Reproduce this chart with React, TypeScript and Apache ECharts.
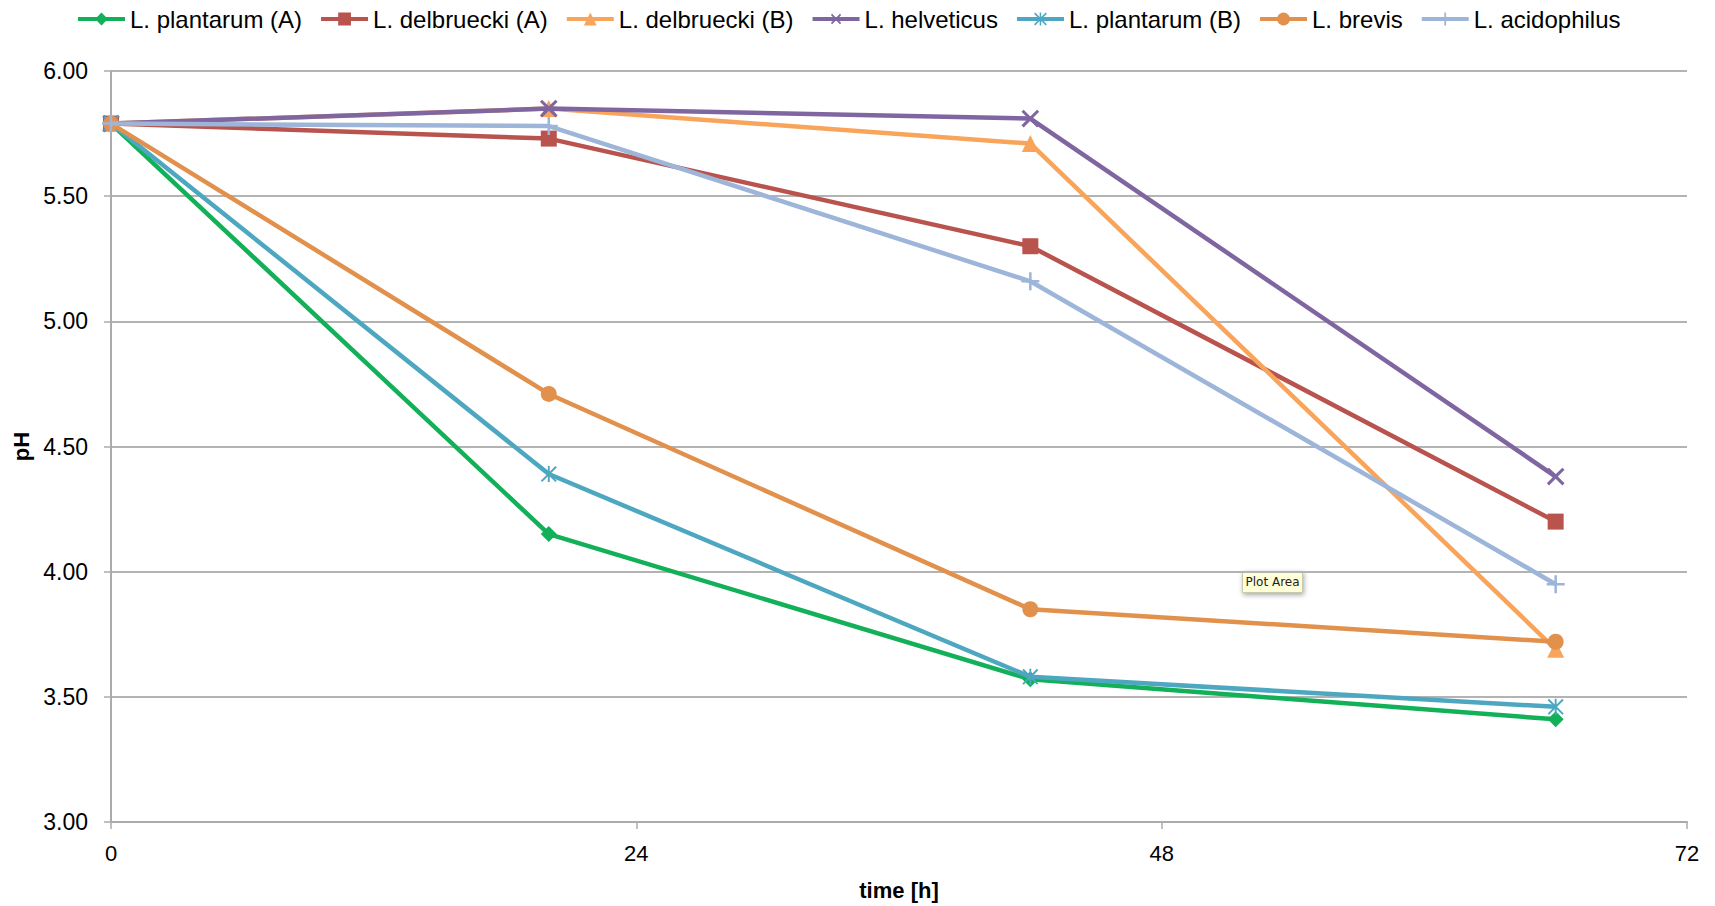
import React, { useEffect, useRef } from "react";
import * as echarts from "echarts";

const times = [0, 20, 42, 66];
const seriesNames = [
  "L. plantarum (A)",
  "L. delbruecki (A)",
  "L. delbruecki (B)",
  "L. helveticus",
  "L. plantarum (B)",
  "L. brevis",
  "L. acidophilus",
];
const plantarumA = [5.79, 4.15, 3.57, 3.41];
const delbrueckiA = [5.79, 5.73, 5.3, 4.2];
const delbrueckiB = [5.79, 5.85, 5.71, 3.69];
const helveticus = [5.79, 5.85, 5.81, 4.38];
const plantarumB = [5.79, 4.39, 3.58, 3.46];
const brevis = [5.79, 4.71, 3.85, 3.72];
const acidophilus = [5.79, 5.78, 5.16, 3.95];
const xTicks = [0, 24, 48, 72];
const yTicks = [3.0, 3.5, 4.0, 4.5, 5.0, 5.5, 6.0];

const colors = ["#12B058", "#B9534E", "#F8A55B", "#7F66A0", "#4DA7C0", "#E1914C", "#9DB5D9"];

const PLUS = "path://M4.3,0H5.7V4.3H10V5.7H5.7V10H4.3V5.7H0V4.3H4.3Z";
const ASTER =
  "path://M4.4,0H5.6V10H4.4Z M0,0.85L0.85,0L10,9.15L9.15,10Z M10,0.85L0.85,10L0,9.15L9.15,0Z";

const symbols = ["diamond", "rect", "triangle", PLUS, ASTER, "circle", PLUS];
const symbolSizes = [16, 16, 17, 22, 16, 16, 18];
const symbolRotates = [0, 0, 0, 45, 0, 0, 0];
const values = [plantarumA, delbrueckiA, delbrueckiB, helveticus, plantarumB, brevis, acidophilus];

const FONT = "'Liberation Sans', Arial, Helvetica, sans-serif";

export default function App() {
  const ref = useRef<HTMLDivElement>(null);
  useEffect(() => {
    if (!ref.current) return;
    const chart = echarts.init(ref.current, undefined, { renderer: "svg" });
    const series = seriesNames.map((name, i) => ({
      name,
      type: "line",
      data: times.map((t, j) => [t, values[i][j]]),
      symbol: symbols[i],
      symbolSize: symbolSizes[i],
      symbolRotate: symbolRotates[i],
      showAllSymbol: true,
      lineStyle: { color: colors[i], width: 4.5 },
      itemStyle: { color: colors[i] },
      z: 2 + i,
    }));
    chart.setOption({
      animation: false,
      backgroundColor: "#ffffff",
      textStyle: { fontFamily: FONT },
      legend: {
        data: seriesNames,
        left: 76,
        top: 7,
        padding: 0,
        itemWidth: 47,
        itemHeight: 16,
        itemGap: 17,
        lineStyle: { width: 4 },
        textStyle: { fontSize: 24, color: "#000", fontFamily: FONT },
      },
      grid: { left: 111, right: 28, top: 71, bottom: 72, containLabel: false },
      xAxis: {
        type: "value",
        min: xTicks[0],
        max: xTicks[xTicks.length - 1],
        interval: 24,
        name: "time [h]",
        nameLocation: "middle",
        nameGap: 57,
        nameTextStyle: { fontSize: 22, fontWeight: "bold", color: "#000", fontFamily: FONT },
        axisLine: { show: true, lineStyle: { color: "#ABABAB", width: 2 } },
        axisTick: { show: true, length: 7, lineStyle: { color: "#ABABAB", width: 1.5 } },
        axisLabel: { fontSize: 22, color: "#000", margin: 20, fontFamily: FONT },
        splitLine: { show: false },
      },
      yAxis: {
        type: "value",
        min: yTicks[0],
        max: yTicks[yTicks.length - 1],
        interval: 0.5,
        name: "pH",
        nameLocation: "middle",
        nameGap: 76,
        nameRotate: 90,
        nameTextStyle: { fontSize: 22, fontWeight: "bold", color: "#000", fontFamily: FONT },
        axisLine: { show: true, lineStyle: { color: "#ABABAB", width: 2 } },
        axisTick: { show: true, length: 7, lineStyle: { color: "#ABABAB", width: 1.5 } },
        axisLabel: {
          fontSize: 23,
          color: "#000",
          margin: 23,
          fontFamily: FONT,
          formatter: (v: number) => v.toFixed(2),
        },
        splitLine: { show: true, lineStyle: { color: "#B3B3B3", width: 2 } },
      },
      graphic: [
        {
          type: "group",
          left: 1242,
          top: 571,
          z: 100,
          children: [
            {
              type: "rect",
              shape: { x: 0, y: 0, width: 60, height: 21 },
              style: {
                fill: "#FFFFD8",
                stroke: "#C9C9B0",
                lineWidth: 1,
                shadowBlur: 5,
                shadowOffsetX: 1,
                shadowOffsetY: 2,
                shadowColor: "rgba(0,0,0,0.35)",
              },
            },
            {
              type: "text",
              x: 30,
              y: 10.5,
              style: {
                text: "Plot Area",
                fill: "#222",
                font: "12px 'DejaVu Sans', sans-serif",
                align: "center",
                verticalAlign: "middle",
              },
            },
          ],
        },
      ],
      series,
    });
    return () => chart.dispose();
  }, []);
  return (
    <div
      ref={ref}
      style={{ position: "fixed", left: 0, top: 0, width: 1715, height: 906, background: "#fff" }}
    />
  );
}
